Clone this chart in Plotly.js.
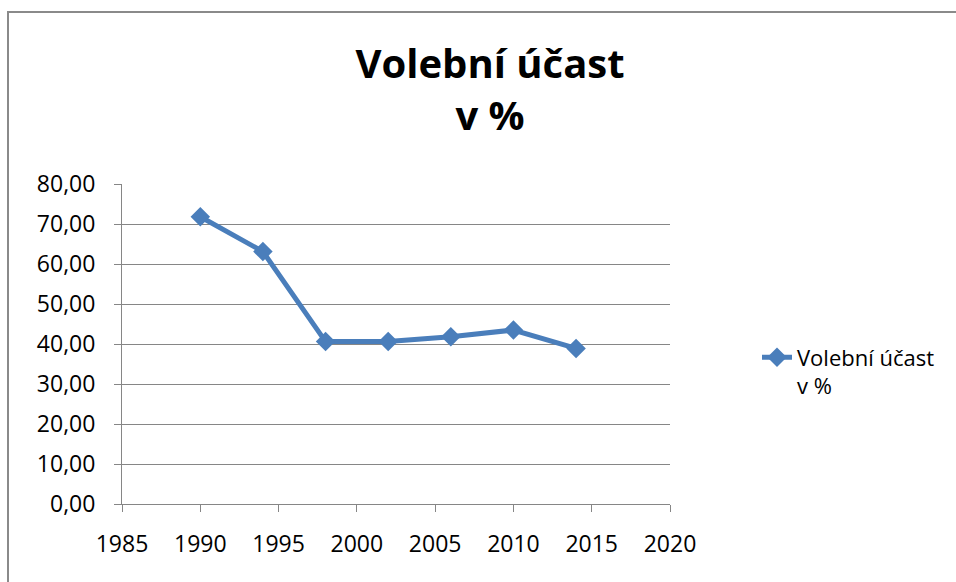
<!DOCTYPE html>
<html>
<head>
<meta charset="utf-8">
<script src="https://cdn.plot.ly/plotly-3.0.1.min.js"></script>
<style>
  html, body { margin: 0; padding: 0; background: #fff; overflow: hidden; }
  #chart { position: absolute; left: 0; top: 0; width: 956px; height: 582px; }
  #frame { position: absolute; left: 7px; top: 11px; width: 1000px; height: 1000px;
           border-left: 2px solid #8a8a8a; border-top: 2px solid #8a8a8a; pointer-events: none; }
</style>
</head>
<body>
<div id="chart"></div>
<div id="frame"></div>
<script>
const years = [1990, 1994, 1998, 2002, 2006, 2010, 2014];
const turnout = [71.8, 63.1, 40.6, 40.6, 41.8, 43.5, 38.9];
const seriesName = "Volební účast<br>v %";
const chartTitle = "Volební účast<br>v %";
const xTicks = [1985, 1990, 1995, 2000, 2005, 2010, 2015, 2020];
const yTicks = [0, 10, 20, 30, 40, 50, 60, 70, 80];

const trace = {
  x: years,
  y: turnout,
  name: seriesName,
  type: "scatter",
  mode: "lines+markers",
  line: { color: "#4A7EBB", width: 5 },
  marker: { symbol: "diamond", size: 15, color: "#4A7EBB" },
  showlegend: true
};

const layout = {
  width: 956,
  height: 582,
  paper_bgcolor: "#ffffff",
  plot_bgcolor: "#ffffff",
  separators: ", ",
  font: { family: "Open Sans, sans-serif", size: 23, color: "#000000" },
  margin: { l: 122, r: 286, t: 184, b: 78, pad: 0 },
  title: {
    text: "<b>" + chartTitle.replace("<br>", "</b><br><b>") + "</b>",
    font: { family: "Open Sans, sans-serif", size: 40, color: "#000000" },
    x: 490 / 956,
    xanchor: "center",
    xref: "container",
    y: 1 - 78 / 582,
    yanchor: "top",
    yref: "container"
  },
  xaxis: {
    range: [1985, 2020],
    tickvals: xTicks,
    ticktext: xTicks.map(String),
    showgrid: false,
    zeroline: false,
    showline: true,
    linecolor: "#868686",
    linewidth: 1,
    ticks: "outside",
    ticklen: 7,
    tickcolor: "#868686",
    tickwidth: 1,
    ticklabelstandoff: 12,
    tickfont: { size: 23, color: "#000000" }
  },
  yaxis: {
    range: [0, 80],
    tickvals: yTicks,
    tickformat: ".2f",
    showgrid: true,
    gridcolor: "#868686",
    gridwidth: 1,
    zeroline: false,
    showline: true,
    linecolor: "#868686",
    linewidth: 1,
    ticks: "outside",
    ticklen: 7,
    tickcolor: "#868686",
    tickwidth: 1,
    ticklabelstandoff: 14,
    tickfont: { size: 23, color: "#000000" }
  },
  showlegend: true,
  legend: {
    x: (757 - 122) / 548,
    xanchor: "left",
    y: (504 - 372) / 320,
    yanchor: "middle",
    valign: "top",
    bgcolor: "rgba(0,0,0,0)",
    font: { family: "Open Sans, sans-serif", size: 22, color: "#000000" }
  }
};

Plotly.newPlot("chart", [trace], layout, { displayModeBar: false, staticPlot: true });
</script>
</body>
</html>
